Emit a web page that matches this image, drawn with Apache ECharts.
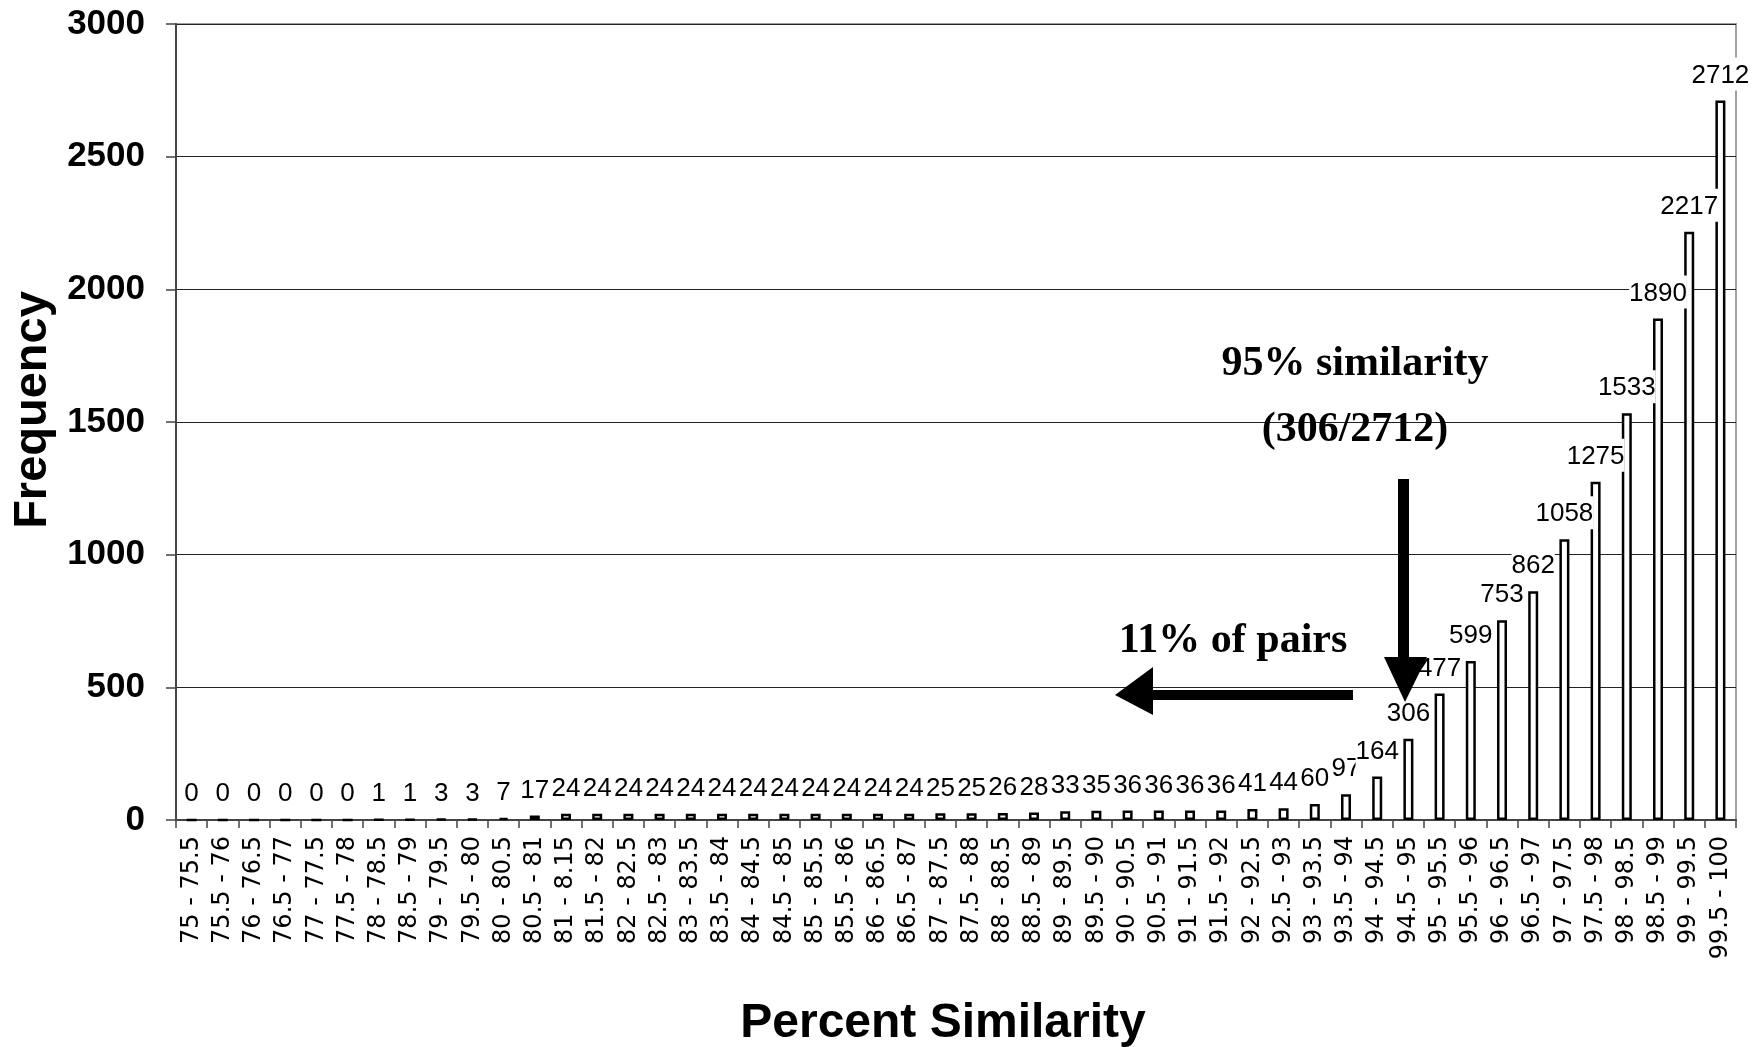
<!DOCTYPE html>
<html>
<head>
<meta charset="utf-8">
<title>Percent Similarity</title>
<script src="https://cdn.jsdelivr.net/npm/echarts@6/dist/echarts.min.js"></script>
<style>
  html, body { margin: 0; padding: 0; background: #fff; }
  #chart { width: 1756px; height: 1047px; }
</style>
</head>
<body>
<div id="chart"></div>
<script>
// Similarity bins (percent) and pair counts per bin
const categories = [
  '75 - 75.5', '75.5 - 76', '76 - 76.5', '76.5 - 77', '77 - 77.5', '77.5 - 78',
  '78 - 78.5', '78.5 - 79', '79 - 79.5', '79.5 - 80', '80 - 80.5', '80.5 - 81',
  '81 - 8.15', '81.5 - 82', '82 - 82.5', '82.5 - 83', '83 - 83.5', '83.5 - 84',
  '84 - 84.5', '84.5 - 85', '85 - 85.5', '85.5 - 86', '86 - 86.5', '86.5 - 87',
  '87 - 87.5', '87.5 - 88', '88 - 88.5', '88.5 - 89', '89 - 89.5', '89.5 - 90',
  '90 - 90.5', '90.5 - 91', '91 - 91.5', '91.5 - 92', '92 - 92.5', '92.5 - 93',
  '93 - 93.5', '93.5 - 94', '94 - 94.5', '94.5 - 95', '95 - 95.5', '95.5 - 96',
  '96 - 96.5', '96.5 - 97', '97 - 97.5', '97.5 - 98', '98 - 98.5', '98.5 - 99',
  '99 - 99.5', '99.5 - 100'
];

const frequency = [
  0, 0, 0, 0, 0, 0, 1, 1, 3, 3, 7, 17,
  24, 24, 24, 24, 24, 24, 24, 24, 24, 24, 24, 24,
  25, 25, 26, 28, 33, 35, 36, 36, 36, 36, 41, 44,
  60, 97, 164, 306, 477, 599, 753, 862, 1058, 1275, 1533, 1890,
  2217, 2712
];

const yMin = 0;
const yMax = 3000;
const yStep = 500;

const axisTitleX = 'Percent Similarity';
const axisTitleY = 'Frequency';
const noteThreshold = ['95% similarity', '(306/2712)'];
const notePairs = '11% of pairs';

const chart = echarts.init(document.getElementById('chart'), null, { renderer: 'canvas' });

const option = {
  animation: false,
  backgroundColor: '#ffffff',
  grid: {
    left: 176, right: 20, top: 24, bottom: 227,
    outerBoundsMode: 'none',
    containLabel: false,
    show: true,
    borderColor: '#a0a0a0',
    borderWidth: 2,
    backgroundColor: 'transparent'
  },
  xAxis: {
    type: 'category',
    data: categories,
    boundaryGap: true,
    axisLine: { show: true, lineStyle: { color: '#444', width: 2 } },
    axisTick: { show: true, interval: 0, length: 8, lineStyle: { color: '#444', width: 1.5 } },
    axisLabel: {
      interval: 0, rotate: 90, margin: 16,
      fontFamily: 'DejaVu Sans', fontSize: 24, color: '#000'
    },
    splitLine: { show: false },
    name: axisTitleX,
    nameLocation: 'middle',
    nameGap: 180,
    nameTextStyle: {
      fontFamily: 'Liberation Sans, Arial, sans-serif',
      fontWeight: 'bold', fontSize: 48, color: '#000',
      padding: [0, 26, 0, 0]
    }
  },
  yAxis: {
    type: 'value',
    min: yMin, max: yMax, interval: yStep,
    axisLine: { show: true, lineStyle: { color: '#444', width: 2 } },
    axisTick: { show: true, length: 10, lineStyle: { color: '#444', width: 1.5 } },
    axisLabel: {
      margin: 31,
      formatter: (v) => String(v),
      fontFamily: 'Liberation Sans, Arial, sans-serif',
      fontWeight: 'bold', fontSize: 35, color: '#000'
    },
    splitLine: { show: true, lineStyle: { color: '#222', width: 1 } },
    name: axisTitleY,
    nameLocation: 'middle',
    nameGap: 108,
    nameTextStyle: {
      fontFamily: 'Liberation Sans, Arial, sans-serif',
      fontWeight: 'bold', fontSize: 47, color: '#000',
      padding: [0, 0, 0, 24]
    }
  },
  series: [{
    type: 'bar',
    data: frequency,
    barWidth: 10,
    itemStyle: { color: '#ffffff', borderColor: '#000', borderWidth: 2.5 },
    label: {
      show: true,
      position: 'top',
      distance: 10,
      fontFamily: 'Liberation Sans, Arial, sans-serif',
      fontSize: 26,
      lineHeight: 30,
      color: '#000',
      backgroundColor: '#ffffff',
      padding: [3, 0, 0, 0]
    }
  }],
  graphic: [
    // downward arrow marking the 95% bin
    { type: 'rect', z: 100, shape: { x: 1398, y: 479, width: 11, height: 180 }, style: { fill: '#000' } },
    { type: 'polygon', z: 100, shape: { points: [[1384, 657], [1427, 657], [1405, 702]] }, style: { fill: '#000' } },
    // leftward arrow for the lower-similarity share
    { type: 'rect', z: 100, shape: { x: 1150, y: 690, width: 203, height: 10 }, style: { fill: '#000' } },
    { type: 'polygon', z: 100, shape: { points: [[1115, 695], [1153, 667], [1153, 715]] }, style: { fill: '#000' } },
    {
      type: 'text', z: 100, x: 1355, y: 364,
      style: { text: noteThreshold[0], font: 'bold 42px "Liberation Serif", "Times New Roman", serif', fill: '#000', align: 'center', verticalAlign: 'middle' }
    },
    {
      type: 'text', z: 100, x: 1355, y: 430,
      style: { text: noteThreshold[1], font: 'bold 42px "Liberation Serif", "Times New Roman", serif', fill: '#000', align: 'center', verticalAlign: 'middle' }
    },
    {
      type: 'text', z: 100, x: 1233, y: 641,
      style: { text: notePairs, font: 'bold 42px "Liberation Serif", "Times New Roman", serif', fill: '#000', align: 'center', verticalAlign: 'middle' }
    }
  ]
};

chart.setOption(option);
</script>
</body>
</html>
